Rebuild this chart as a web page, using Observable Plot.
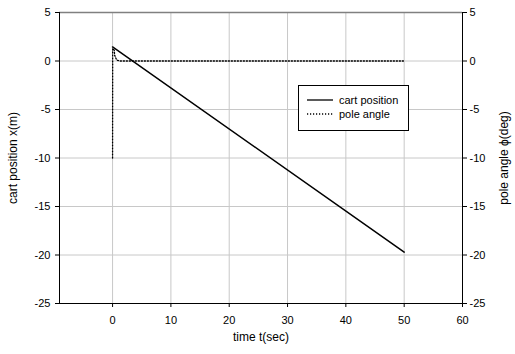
<!DOCTYPE html>
<html>
<head>
<meta charset="utf-8">
<script src="https://cdn.jsdelivr.net/npm/d3@7"></script>
<script src="https://cdn.jsdelivr.net/npm/@observablehq/plot@0.6"></script>
<style>
  html, body { margin: 0; padding: 0; background: #fff; }
  #chart svg { display: block; }
</style>
</head>
<body>
<div id="chart"></div>
<script>
// ---- data ----
const cartT = [0, 50];
const cartX = [1.45, -19.7];
const poleT = [0, 0.02, 0.3, 0.35, 0.7, 1.2, 50];
const poleA = [-10, 1.3, 1.1, 0.6, 0.1, 0, 0];
const xTicks = [0, 10, 20, 30, 40, 50, 60];
const yTicks = [5, 0, -5, -10, -15, -20, -25];
const xGrid = [0, 10, 20, 30, 40, 50];
const yGrid = [0, -5, -10, -15, -20];
const seriesNames = ["cart position", "pole angle"];

const cart = cartT.map((t, i) => ({t, v: cartX[i]}));
const pole = poleT.map((t, i) => ({t, v: poleA[i]}));

const W = 515, H = 354;
const mL = 59, mR = 53, mT = 12, mB = 51;
const font = "'Liberation Sans', Arial, sans-serif";
const fmt = d => String(d);
const dots = "1.2,1.8";

const chart = Plot.plot({
  width: W, height: H,
  marginLeft: mL, marginRight: mR, marginTop: mT, marginBottom: mB,
  style: {fontFamily: font, fontSize: "11px", color: "#000", background: "#fff"},
  x: {domain: [-9.1, 60]},
  y: {domain: [-25, 5]},
  marks: [
    Plot.gridX(xGrid, {stroke: "#c8c8c8", strokeOpacity: 1, strokeWidth: 1}),
    Plot.gridY(yGrid, {stroke: "#c8c8c8", strokeOpacity: 1, strokeWidth: 1}),
    Plot.ruleY([5], {stroke: "#808080", strokeWidth: 1.5}),
    Plot.ruleY([-25], {stroke: "#000", strokeWidth: 1}),
    Plot.ruleX([-9.1], {stroke: "#000", strokeWidth: 1}),
    Plot.ruleX([60], {stroke: "#000", strokeWidth: 1}),
    Plot.axisX({ticks: xTicks, tickFormat: fmt, tickSize: 4, tickPadding: 9, fontSize: 11, label: null}),
    Plot.axisX({ticks: [], label: "time t(sec)", labelAnchor: "center", labelOffset: 37, labelArrow: "none", fontSize: 12}),
    Plot.axisY({anchor: "left", ticks: yTicks, tickFormat: fmt, tickSize: 4, tickPadding: 5, label: null}),
    Plot.axisY({anchor: "left", ticks: [], label: "cart position x(m)", labelAnchor: "center", labelOffset: 51, labelArrow: "none", fontSize: 12}),
    Plot.axisY({anchor: "right", ticks: yTicks, tickFormat: fmt, tickSize: 4, tickPadding: 3, label: null}),
    Plot.axisY({anchor: "right", ticks: [], label: "pole angle \u03D5(deg)", labelAnchor: "center", labelOffset: 45, labelArrow: "none", fontSize: 12}),
    Plot.line(pole, {x: "t", y: "v", stroke: "#000", strokeWidth: 1.3, strokeDasharray: dots}),
    Plot.line(cart, {x: "t", y: "v", stroke: "#000", strokeWidth: 1.5})
  ]
});

// legend box inside the plot area
const svg = d3.select(chart);
const lg = svg.append("g").attr("font-family", font).attr("font-size", 11).attr("text-anchor", "start");
lg.append("rect").attr("x", 298.5).attr("y", 85.5).attr("width", 110).attr("height", 45)
  .attr("fill", "#fff").attr("stroke", "#000").attr("stroke-width", 1);
const styles = [{dash: null, w: 1.3}, {dash: dots, w: 1.3}];
seriesNames.forEach((name, i) => {
  const y = 100 + i * 14;
  const l = lg.append("line").attr("x1", 307).attr("x2", 333).attr("y1", y).attr("y2", y)
    .attr("stroke", "#000").attr("stroke-width", styles[i].w);
  if (styles[i].dash) l.attr("stroke-dasharray", styles[i].dash);
  lg.append("text").attr("x", 339).attr("y", y).attr("dy", "0.35em").attr("text-anchor", "start").text(name);
});

document.getElementById("chart").appendChild(chart);
</script>
</body>
</html>
